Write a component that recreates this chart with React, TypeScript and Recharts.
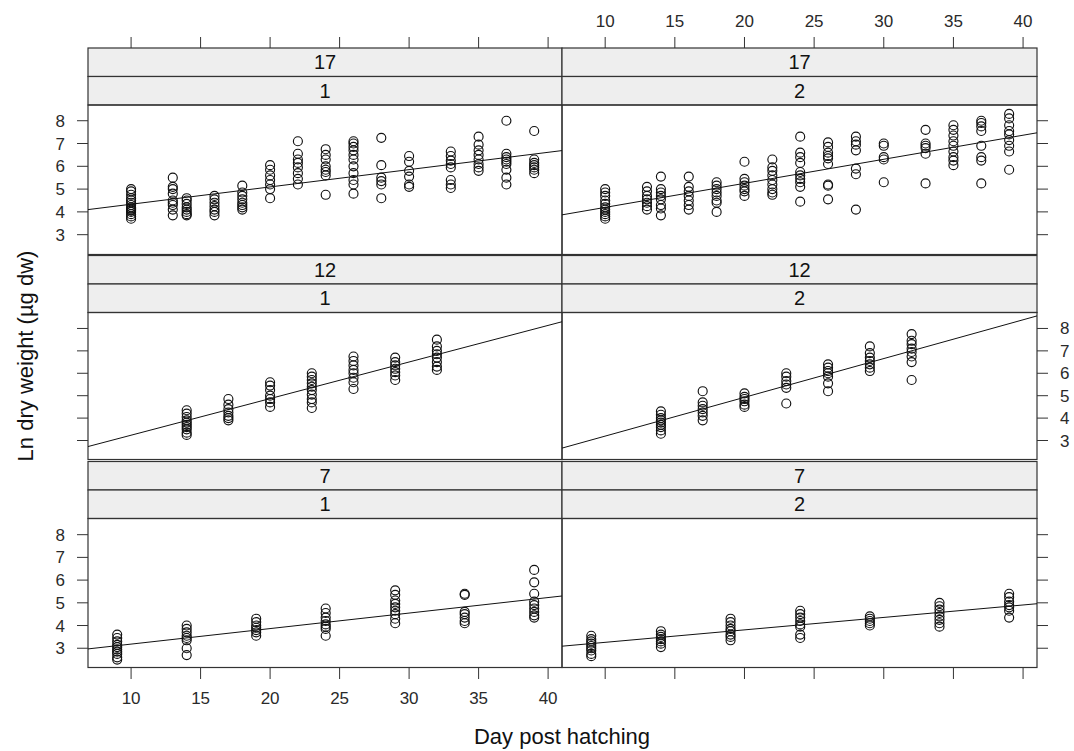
import { ScatterChart, Scatter, XAxis, YAxis } from 'recharts';

const xDomain = [6.9, 41];
const yDomain = [2.13, 8.69];
const xTicks = [10, 15, 20, 25, 30, 35, 40];
const yTicks = [3, 4, 5, 6, 7, 8];

const outerStrips = ['17', '12', '7'];
const innerStrips = ['1', '2'];

const topDays = [10, 13, 14, 16, 18, 20, 22, 24, 26, 28, 30, 33, 35, 37, 39];
const midDays = [14, 17, 20, 23, 26, 29, 32];
const lowDays = [9, 14, 19, 24, 29, 34, 39];

// ln dry weight per sampling day, one list per day
const w17s1 = [
  [3.7, 3.8, 3.9, 4.0, 4.05, 4.1, 4.15, 4.2, 4.3, 4.4, 4.5, 4.6, 4.75, 4.9, 5.0],
  [5.5, 5.1, 5.0, 4.8, 4.5, 4.4, 4.3, 4.1, 3.85],
  [4.6, 4.5, 4.35, 4.2, 4.1, 4.0, 3.9, 3.85],
  [4.7, 4.55, 4.4, 4.25, 4.1, 4.0, 3.85],
  [5.15, 4.85, 4.7, 4.55, 4.4, 4.3, 4.2, 4.1],
  [6.05, 5.85, 5.6, 5.4, 5.2, 5.0, 4.6],
  [7.1, 6.55, 6.3, 6.15, 5.95, 5.7, 5.45, 5.2],
  [6.75, 6.5, 6.3, 6.0, 5.85, 5.75, 5.6, 4.75],
  [7.1, 7.0, 6.85, 6.7, 6.5, 6.3, 6.0, 5.7, 5.4, 5.2, 4.8],
  [7.25, 6.05, 5.5, 5.35, 5.2, 4.6],
  [6.45, 6.2, 5.8, 5.55, 5.2, 5.1],
  [6.65, 6.45, 6.25, 6.1, 5.95, 5.4, 5.2, 5.05],
  [7.3, 6.95, 6.7, 6.5, 6.3, 6.1, 5.95, 5.8],
  [8.0, 6.55, 6.4, 6.3, 6.2, 6.1, 5.85, 5.5, 5.2],
  [7.55, 6.3, 6.15, 6.05, 5.95, 5.85, 5.7],
];
const w17s2 = [
  [5.0, 4.85, 4.7, 4.5, 4.35, 4.2, 4.1, 4.0, 3.9, 3.8, 3.7],
  [5.1, 4.9, 4.7, 4.55, 4.4, 4.25, 4.1],
  [5.55, 5.0, 4.85, 4.7, 4.55, 4.3, 4.15, 3.85],
  [5.55, 5.1, 4.9, 4.7, 4.5, 4.3, 4.1],
  [5.3, 5.15, 5.0, 4.85, 4.7, 4.5, 4.4, 4.0],
  [6.2, 5.45, 5.3, 5.15, 5.0, 4.9, 4.7],
  [6.3, 5.95, 5.8, 5.6, 5.4, 5.2, 5.0, 4.85, 4.75],
  [7.3, 6.6, 6.4, 6.15, 5.75, 5.6, 5.45, 5.3, 5.1, 4.45],
  [7.05, 6.85, 6.6, 6.45, 6.35, 6.1, 5.2, 5.15, 4.55],
  [7.3, 7.1, 6.95, 6.7, 5.9, 5.65, 4.1],
  [7.0, 6.9, 6.4, 6.3, 5.3],
  [7.6, 7.0, 6.9, 6.8, 6.55, 5.25],
  [7.8, 7.6, 7.35, 7.1, 6.9, 6.65, 6.4, 6.25, 6.05],
  [8.0, 7.9, 7.75, 7.55, 6.9, 6.4, 6.25, 5.25],
  [8.3, 8.1, 7.8, 7.55, 7.4, 7.15, 6.9, 6.65, 5.85],
];
const w12s1 = [
  [4.35, 4.2, 4.05, 3.9, 3.8, 3.7, 3.6, 3.5, 3.35, 3.25],
  [4.85, 4.6, 4.4, 4.25, 4.1, 4.0, 3.9],
  [5.6, 5.45, 5.25, 5.0, 4.85, 4.7, 4.5],
  [6.0, 5.85, 5.7, 5.55, 5.4, 5.25, 5.05, 4.85, 4.7, 4.45],
  [6.75, 6.55, 6.35, 6.15, 6.0, 5.8, 5.6, 5.3],
  [6.7, 6.5, 6.35, 6.2, 6.05, 5.9, 5.7],
  [7.5, 7.2, 7.0, 6.85, 6.7, 6.5, 6.3, 6.15],
];
const w12s2 = [
  [4.3, 4.15, 4.0, 3.9, 3.8, 3.7, 3.6, 3.45, 3.3],
  [5.2, 4.7, 4.55, 4.4, 4.25, 4.1, 3.9],
  [5.1, 4.95, 4.85, 4.75, 4.6, 4.5],
  [6.0, 5.85, 5.65, 5.5, 5.35, 4.65],
  [6.4, 6.25, 6.1, 6.0, 5.85, 5.55, 5.2],
  [7.2, 6.9, 6.7, 6.55, 6.4, 6.25, 6.1],
  [7.75, 7.45, 7.3, 7.1, 6.95, 6.75, 6.5, 5.7],
];
const w7s1 = [
  [3.6, 3.45, 3.3, 3.15, 3.05, 2.95, 2.85, 2.75, 2.6, 2.5],
  [4.0, 3.85, 3.7, 3.55, 3.45, 3.35, 3.0, 2.7],
  [4.3, 4.15, 4.0, 3.9, 3.8, 3.7, 3.55],
  [4.75, 4.55, 4.35, 4.2, 4.05, 3.95, 3.85, 3.55],
  [5.55, 5.35, 5.1, 4.95, 4.8, 4.65, 4.5, 4.3, 4.1],
  [5.4, 5.35, 4.6, 4.5, 4.35, 4.2, 4.1],
  [6.45, 5.9, 5.4, 5.05, 4.9, 4.75, 4.6, 4.45, 4.35],
];
const w7s2 = [
  [3.55, 3.4, 3.3, 3.2, 3.1, 3.0, 2.9, 2.75, 2.65],
  [3.75, 3.6, 3.5, 3.4, 3.3, 3.2, 3.05],
  [4.3, 4.15, 4.0, 3.85, 3.75, 3.6, 3.5, 3.35],
  [4.65, 4.5, 4.35, 4.2, 4.05, 3.95, 3.6, 3.45],
  [4.4, 4.3, 4.2, 4.1, 4.0],
  [5.0, 4.85, 4.7, 4.55, 4.4, 4.25, 4.1, 3.95],
  [5.4, 5.25, 5.05, 4.9, 4.8, 4.65, 4.35],
];

// fitted line, value at each end of the day range
const fitDays = [6.9, 41];
const fit17s1 = [4.1, 6.69];
const fit17s2 = [3.87, 7.47];
const fit12s1 = [2.73, 8.3];
const fit12s2 = [2.66, 8.56];
const fit7s1 = [2.97, 5.3];
const fit7s2 = [3.09, 4.96];

const toPoints = (days: number[], values: number[][]) =>
  days.flatMap((d, i) => values[i].map((v) => ({ x: d, y: v })));
const toLine = (ends: number[]) => fitDays.map((d, i) => ({ x: d, y: ends[i] }));

const panels = [
  { row: 0, col: 0, pts: toPoints(topDays, w17s1), fit: toLine(fit17s1) },
  { row: 0, col: 1, pts: toPoints(topDays, w17s2), fit: toLine(fit17s2) },
  { row: 1, col: 0, pts: toPoints(midDays, w12s1), fit: toLine(fit12s1) },
  { row: 1, col: 1, pts: toPoints(midDays, w12s2), fit: toLine(fit12s2) },
  { row: 2, col: 0, pts: toPoints(lowDays, w7s1), fit: toLine(fit7s1) },
  { row: 2, col: 1, pts: toPoints(lowDays, w7s2), fit: toLine(fit7s2) },
];

const rowTop = [105, 312.5, 518.5];
const rowH = [149.5, 147, 149];
const stripH = 28.5;
const colLeft = [88, 562];
const colW = [474, 475];
const ink = '#333';
const font = '"Liberation Sans", Arial, sans-serif';
const tickStyle = { fill: '#2a2a2a', fontSize: 17 };

const Ring = (p: any) => (
  <circle cx={p.cx} cy={p.cy} r={4.5} fill="none" stroke="#111" strokeWidth={1.15} />
);
const NoDot = () => <g />;
const NoLabel = () => <g />;

function Panel({ p }: { p: (typeof panels)[number] }) {
  const left = p.col === 0;
  const bottom = p.row === 2;
  const yLabels = left ? p.row !== 1 : p.row === 1;
  return (
    <div style={{ position: 'absolute', left: left ? 0 : 562, top: rowTop[p.row] }}>
      <ScatterChart
        width={left ? 562 : 512}
        height={rowH[p.row] + (bottom ? 84 : 0)}
        margin={{ top: 0, right: 0, bottom: 0, left: 0 }}
      >
        <XAxis
          type="number"
          dataKey="x"
          domain={xDomain}
          ticks={xTicks}
          interval={0}
          allowDataOverflow
          hide={!bottom}
          height={84}
          tickSize={11}
          tickMargin={13}
          axisLine={false}
          stroke={ink}
          tick={left ? tickStyle : NoLabel}
        />
        <YAxis
          type="number"
          dataKey="y"
          domain={yDomain}
          ticks={yTicks}
          interval={0}
          allowDataOverflow
          orientation={left ? 'left' : 'right'}
          width={left ? 88 : 37}
          tickSize={11}
          tickMargin={12}
          axisLine={false}
          stroke={ink}
          tick={yLabels ? tickStyle : NoLabel}
        />
        <Scatter data={p.pts} shape={Ring} isAnimationActive={false} />
        <Scatter
          data={p.fit}
          shape={NoDot}
          line={{ stroke: '#111', strokeWidth: 1 }}
          isAnimationActive={false}
        />
      </ScatterChart>
    </div>
  );
}

function TopAxis({ col }: { col: number }) {
  const left = col === 0;
  const anchor = panels[col].fit;
  return (
    <div style={{ position: 'absolute', left: left ? 0 : 562, top: 0 }}>
      <ScatterChart
        width={left ? 562 : 475}
        height={50}
        margin={{ top: 0, right: 0, bottom: 0, left: left ? 88 : 0 }}
      >
        <XAxis
          type="number"
          dataKey="x"
          domain={xDomain}
          ticks={xTicks}
          interval={0}
          allowDataOverflow
          orientation="top"
          height={48}
          tickSize={11}
          tickMargin={10}
          axisLine={false}
          stroke={ink}
          tick={left ? NoLabel : tickStyle}
        />
        <YAxis type="number" dataKey="y" domain={yDomain} allowDataOverflow hide />
        <Scatter data={anchor} shape={NoDot} isAnimationActive={false} />
      </ScatterChart>
    </div>
  );
}

export default function App() {
  return (
    <div
      style={{
        position: 'absolute',
        left: 0,
        top: 0,
        width: 1074,
        height: 751,
        overflow: 'hidden',
        background: '#fff',
        fontFamily: font,
      }}
    >
      <svg width={1074} height={751} style={{ position: 'absolute', left: 0, top: 0 }}>
        {panels.map((p, i) => {
          const x = colLeft[p.col];
          const w = colW[p.col];
          const s0 = rowTop[p.row] - 2 * stripH;
          return (
            <g key={i}>
              <rect x={x} y={s0} width={w} height={stripH} fill="#eeeeee" stroke={ink} strokeWidth={1.2} />
              <rect x={x} y={s0 + stripH} width={w} height={stripH} fill="#eeeeee" stroke={ink} strokeWidth={1.2} />
              <text x={x + w / 2} y={s0 + stripH / 2} textAnchor="middle" dominantBaseline="central" fontSize={20} fill="#111">
                {outerStrips[p.row]}
              </text>
              <text x={x + w / 2} y={s0 + stripH * 1.5} textAnchor="middle" dominantBaseline="central" fontSize={20} fill="#111">
                {innerStrips[p.col]}
              </text>
              <rect x={x} y={rowTop[p.row]} width={w} height={rowH[p.row]} fill="none" stroke={ink} strokeWidth={1.2} />
            </g>
          );
        })}
        <text x={562} y={736} textAnchor="middle" dominantBaseline="central" fontSize={22} fill="#111">
          Day post hatching
        </text>
        <text
          x={25}
          y={356}
          textAnchor="middle"
          dominantBaseline="central"
          fontSize={22}
          fill="#111"
          transform="rotate(-90 25 356)"
        >
          Ln dry weight (µg dw)
        </text>
      </svg>
      <TopAxis col={0} />
      <TopAxis col={1} />
      {panels.map((p, i) => (
        <Panel key={i} p={p} />
      ))}
    </div>
  );
}
